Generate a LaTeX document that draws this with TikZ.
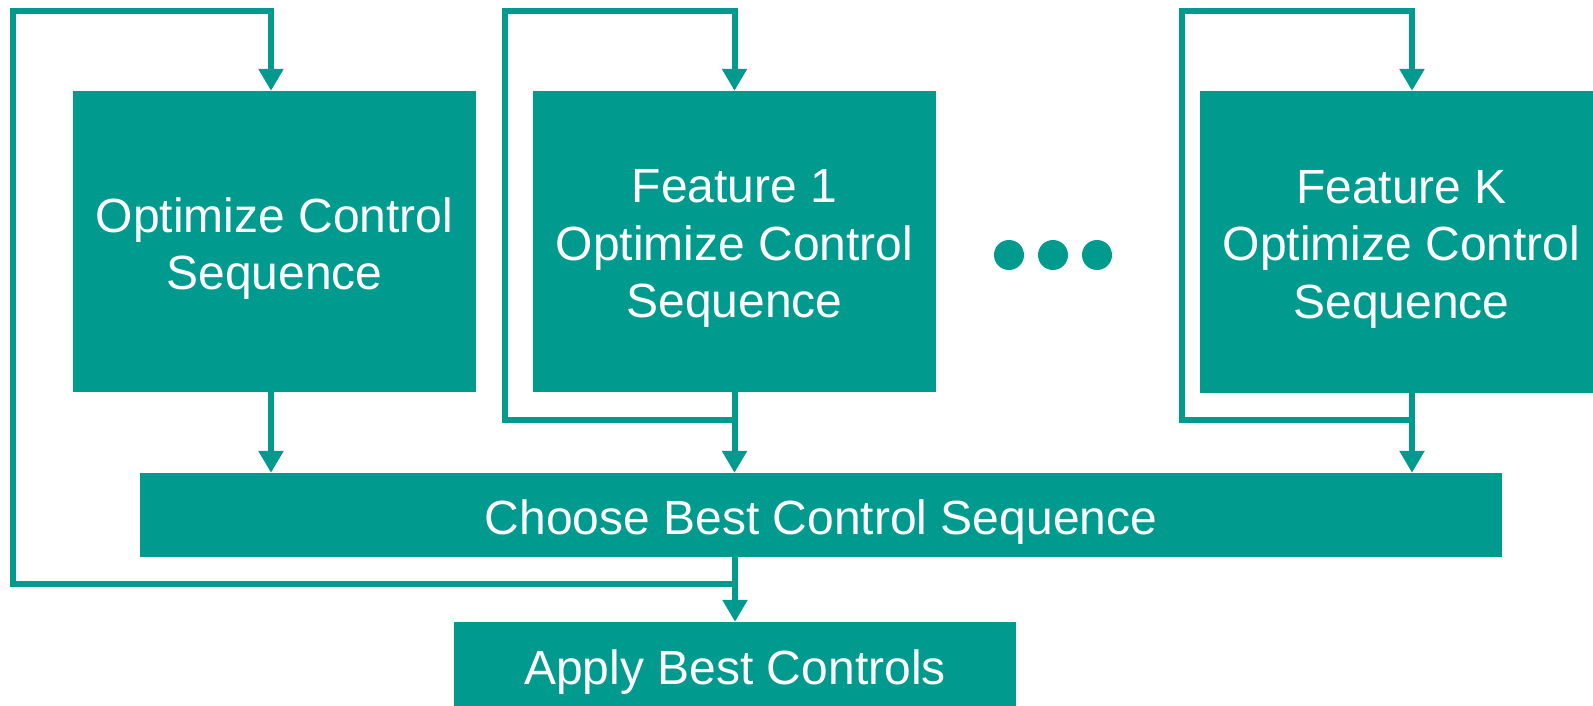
\documentclass[tikz,border=0pt]{standalone}
\usepackage{fontspec}
\setmainfont{Liberation Sans}
\usetikzlibrary{arrows.meta}
\definecolor{boxteal}{RGB}{0,154,143}
\begin{document}
\begin{tikzpicture}[x=1pt,y=-1pt,
  box/.style={fill=boxteal, inner sep=0pt},
  lbl/.style={text=white, inner sep=0pt, align=center,
    font=\fontsize{48}{57.5}\selectfont},
  flow/.style={draw=boxteal, line width=6pt,
    -{Triangle[width=24pt,length=22pt]}},
  dot/.style={circle, fill=boxteal, inner sep=0pt, minimum size=30pt}]
\useasboundingbox (0,0) rectangle (1593,705);
\clip (0,0) rectangle (1593,705);

% optimizer boxes
\node[box, minimum width=403pt, minimum height=301pt] (b1) at (274.5,241.5) {};
\node[box, minimum width=403pt, minimum height=301pt] (b2) at (734.5,241.5) {};
\node[box, minimum width=403pt, minimum height=302pt] (b3) at (1401.5,242) {};
\node[lbl] (t1) at ([yshift=-7pt]b1.center) {Optimize Control\\Sequence};
\node[lbl] (t2) at ([yshift=-7pt]b2.center) {Feature 1\\Optimize Control\\Sequence};
\node[lbl] (t3) at ([yshift=-7pt]b3.center) {Feature K\\Optimize Control\\Sequence};

% ellipsis between feature columns
\node[dot] (d1) at (1009,255) {};
\node[dot] (d2) at (1053,255) {};
\node[dot] (d3) at (1097,255) {};

% selection and application
\node[box, minimum width=1362pt, minimum height=84pt] (b4) at (821,515) {};
\node[box, minimum width=562pt, minimum height=90pt] (b5) at (735,667) {};
\node[lbl] (t4) at ([yshift=-7pt]b4.center) {Choose Best Control Sequence};
\node[lbl] (t5) at ([yshift=-5pt]b5.center) {Apply Best Controls};

% column positions and loop corners
\coordinate (c1) at (271,0);
\coordinate (c3) at (1412,0);
\coordinate (m1) at (735,584);
\coordinate (m2) at (735,420);
\coordinate (m3) at (1412,420);
\coordinate (L1) at (13,11);
\coordinate (L2) at (505,11);
\coordinate (L3) at (1182,11);

% downward flow
\draw[flow] (b1.south -| c1) -- (b4.north -| c1);
\draw[flow] (b2.south) -- (b4.north -| b2.south);
\draw[flow] (b3.south -| c3) -- (b4.north -| c3);
\draw[flow] (b4.south -| b5.north) -- (b5.north);

% feedback loops
\draw[flow] (m1) -| (L1) -| (b1.north -| c1);
\draw[flow] (m2) -| (L2) -| (b2.north);
\draw[flow] (m3) -| (L3) -| (b3.north -| c3);
\end{tikzpicture}
\end{document}
